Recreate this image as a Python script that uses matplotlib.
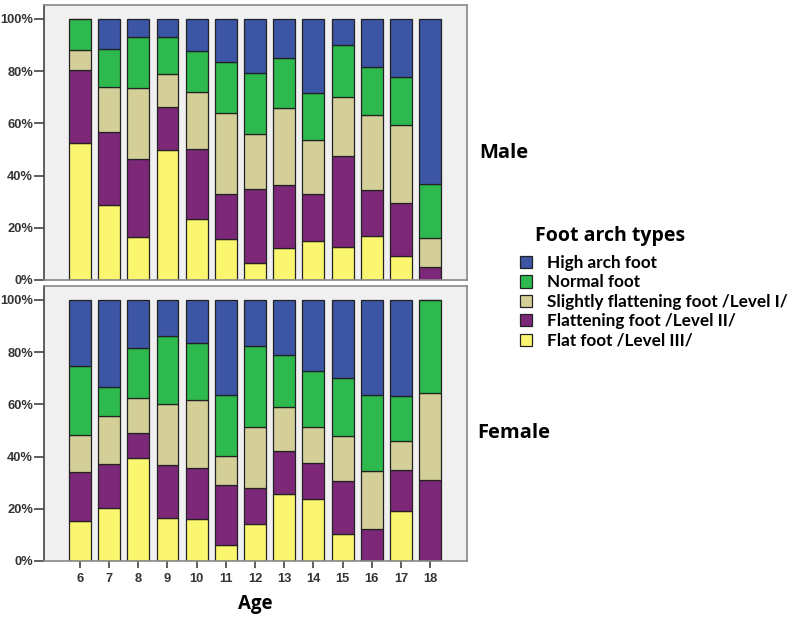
import numpy as np
import matplotlib
matplotlib.use("Agg")
import matplotlib.pyplot as plt

plt.rcParams['font.family'] = ['Lato', 'DejaVu Sans']

AGES = [6, 7, 8, 9, 10, 11, 12, 13, 14, 15, 16, 17, 18]
TYPES = ["Flat foot /Level III/", "Flattening foot /Level II/",
         "Slightly flattening foot /Level I/", "Normal foot", "High arch foot"]
COLORS = ["#fbf66f", "#7d2779", "#d4ce99", "#2db94d", "#3c55a5"]

# percentages, bottom to top: flat, flattening, slightly, normal, high arch
male_flat = [52.4, 28.7, 16.3, 49.8, 23.2, 15.6, 6.4, 12.4, 15.1, 12.8, 16.9, 9.2, 0]
male_flattening = [28.1, 28.0, 30.1, 16.6, 26.9, 17.4, 28.5, 24.1, 17.7, 34.8, 17.6, 20.4, 4.9]
male_slight = [7.6, 17.1, 27.0, 12.5, 21.8, 30.9, 20.9, 29.3, 20.8, 22.4, 28.7, 29.8, 11.3]
male_normal = [11.9, 14.6, 19.8, 14.3, 15.6, 19.4, 23.4, 19.1, 17.9, 19.8, 18.5, 18.5, 20.6]
male_high = [0, 11.6, 6.8, 6.8, 12.5, 16.7, 20.8, 15.1, 28.5, 10.2, 18.3, 22.1, 63.2]

female_flat = [15.4, 20.3, 39.4, 16.5, 15.9, 6.3, 14.2, 25.8, 23.7, 10.3, 0, 19.3, 0]
female_flattening = [18.5, 16.9, 9.5, 20.4, 19.6, 22.7, 13.7, 16.3, 13.7, 20.2, 12.1, 15.4, 30.9]
female_slight = [14.2, 18.5, 13.5, 23.2, 26.0, 11.2, 23.4, 17.0, 14.0, 17.3, 22.3, 11.3, 33.5]
female_normal = [26.4, 10.8, 19.1, 26.1, 21.9, 23.4, 31.0, 19.6, 21.2, 22.4, 29.2, 17.0, 35.6]
female_high = [25.5, 33.5, 18.5, 13.8, 16.6, 36.4, 17.7, 21.3, 27.4, 29.8, 36.4, 37.0, 0]

male = [male_flat, male_flattening, male_slight, male_normal, male_high]
female = [female_flat, female_flattening, female_slight, female_normal, female_high]

fig = plt.figure(figsize=(7.93, 6.17), dpi=100)
ax_m = fig.add_axes([0.0555, 0.5462, 0.533, 0.4457])
ax_f = fig.add_axes([0.0555, 0.0908, 0.533, 0.4457])

tick_font = dict(family=['Liberation Sans', 'DejaVu Sans'], weight='bold', size=9.3)

handles = []
for ax, data in [(ax_m, male), (ax_f, female)]:
    ax.set_facecolor("#f0f0f0")
    bottom = np.zeros(len(AGES))
    handles = []
    for vals, col, name in zip(data, COLORS, TYPES):
        vals = np.array(vals)
        b = ax.bar(AGES, vals, 0.75, bottom=bottom, color=col,
                   edgecolor="#222222", linewidth=0.9, label=name)
        handles.append(b)
        bottom += vals
    ax.set_xlim(4.77, 19.25)
    ax.set_ylim(0, 105.3)
    ax.set_yticks(np.arange(0, 101, 20))
    ax.set_yticklabels([f"{v}%" for v in range(0, 101, 20)], color="#333333", **tick_font)
    for s in ax.spines.values():
        s.set_color("#888888")
        s.set_linewidth(1.2)
    ax.spines['left'].set_color("#444444")
    ax.tick_params(axis='y', length=7, width=1.2, color="#444444", pad=1)

ax_m.set_xticks([])
ax_f.set_xticks(AGES)
ax_f.set_xticklabels([str(a) for a in AGES], color="#333333", **tick_font)
ax_f.tick_params(axis='x', length=5, width=1.2, color="#444444", pad=4)
ax_f.set_xlabel("Age", family='Open Sans', fontsize=13.5, fontweight='bold', labelpad=6)

side_font = dict(family='Open Sans', fontsize=14.5, fontweight='bold', va='center')
fig.text(479 / 793, 1 - 153 / 617, "Male", **side_font)
fig.text(477 / 793, 1 - 433 / 617, "Female", **side_font)

fig.text(535 / 793, 1 - 236 / 617, "Foot arch types", family='Open Sans',
         fontsize=14, fontweight='bold', va='center')
fig.legend(handles[::-1], TYPES[::-1], loc='upper left',
           bbox_to_anchor=(520 / 793, 1 - 255 / 617), frameon=False,
           prop=dict(family='Lato', weight='bold', size=12.3),
           handlelength=0.72, handleheight=0.72, handletextpad=0.85,
           labelspacing=0.2, borderpad=0, borderaxespad=0)

fig.savefig("out.png", dpi=100)
